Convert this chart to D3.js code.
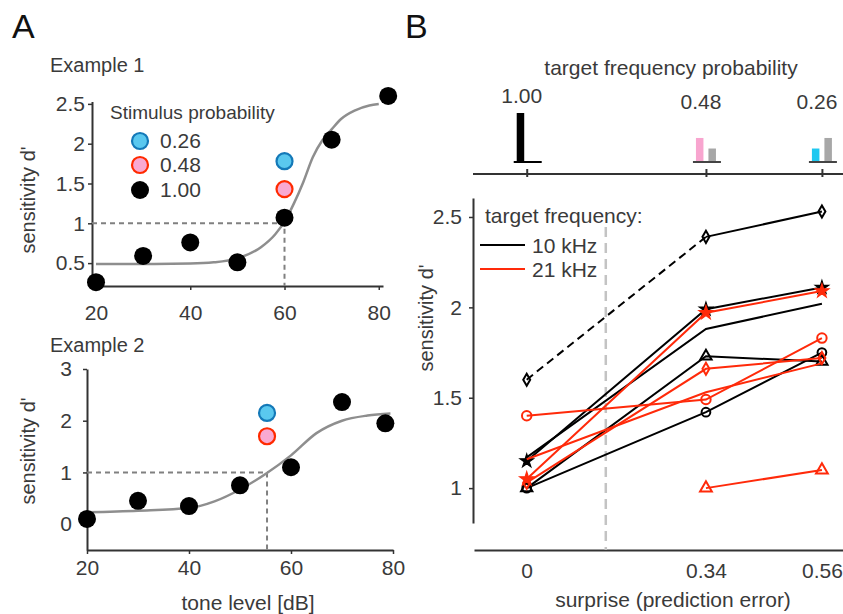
<!DOCTYPE html>
<html>
<head>
<meta charset="utf-8">
<script src="https://cdn.jsdelivr.net/npm/d3@7"></script>
<style>
  body { margin: 0; background: #fff; }
  svg text { font-family: "Helvetica Neue", Helvetica, Arial, "Liberation Sans", sans-serif; fill: #3a3a3a; }
</style>
</head>
<body>
<svg id="fig" width="843" height="614"></svg>
<script>
// ---- Panel A: psychometric examples ----
const ex1Levels = [20, 30, 40, 50, 60, 70, 82];
const ex1Dprime = [0.26, 0.59, 0.76, 0.51, 1.07, 2.05, 2.60];
const ex1ProbeLevel = 60;
const ex1Threshold = 60;
const ex1FitLevels = [20, 30, 40, 45, 50, 55, 58, 60, 62, 64, 66, 68, 70, 72, 75, 78, 80];
const ex1FitDprime = [0.49, 0.49, 0.495, 0.51, 0.56, 0.70, 0.86, 1.02, 1.25, 1.52, 1.83, 2.04, 2.18, 2.31, 2.42, 2.48, 2.50];

const ex2Levels = [20, 30, 40, 50, 60, 70, 78.5];
const ex2Dprime = [0.10, 0.45, 0.35, 0.75, 1.10, 2.36, 1.95];
const ex2ProbeLevel = 55.3;
const ex2Threshold = 55.3;
const ex2FitLevels = [20, 30, 40, 45, 50, 55, 60, 65, 70, 75, 79.5];
const ex2FitDprime = [0.23, 0.26, 0.31, 0.44, 0.67, 0.97, 1.33, 1.76, 2.00, 2.10, 2.14];

// probe d' for probabilities 0.26 and 0.48
const ex1ProbeDprime = [1.78, 1.43];
const ex2ProbeDprime = [2.15, 1.70];
const legendProbs = ["0.26", "0.48", "1.00"];

// ---- Panel B: surprise ----
const surprise = [0, 0.34, 0.56];
const probLabels = ["1.00", "0.48", "0.26"];
const targetProb = [1.00, 0.48, 0.26];
const otherProb = [0.00, 0.26, 0.48];

const k10Diamond = [1.60, 2.39, 2.53];
const k10Star = [1.15, 1.99, 2.11];
const k10Plain = [1.17, 1.88, 2.02];
const k10Triangle = [1.00, 1.73, 1.70];
const k10Circle = [1.00, 1.42, 1.75];
const k21Star = [1.05, 1.97, 2.09];
const k21Diamond = [1.03, 1.66, 1.72];
const k21Circle = [1.40, 1.49, 1.83];
const k21Plain = [1.16, 1.53, 1.69];
const k21Triangle = [null, 1.00, 1.10];
const boundarySurprise = 0.15;

const BLACK = '#000', RED = '#ff2a0a';
const seriesB = [
  { vals: k10Diamond, color: BLACK, marker: d3.symbolDiamond, size: 42, dashFirst: true },
  { vals: k10Plain, color: BLACK, marker: null },
  { vals: k10Triangle, color: BLACK, marker: d3.symbolTriangle, size: 55 },
  { vals: k10Circle, color: BLACK, marker: d3.symbolCircle, size: 60 },
  { vals: k10Star, color: BLACK, marker: d3.symbolStar, size: 55, filled: true },
  { vals: k21Plain, color: RED, marker: null },
  { vals: k21Diamond, color: RED, marker: d3.symbolDiamond, size: 42 },
  { vals: k21Circle, color: RED, marker: d3.symbolCircle, size: 70 },
  { vals: k21Triangle, color: RED, marker: d3.symbolTriangle, size: 60 },
  { vals: k21Star, color: RED, marker: d3.symbolStar, size: 60, filled: true }
];

const svg = d3.select('#fig');
const AXIS = '#333';
const FS = '21px';

function styleAxis(g) {
  g.select('.domain').attr('stroke', AXIS).attr('stroke-width', 2);
  g.selectAll('.tick line').attr('stroke', AXIS).attr('stroke-width', 1.5);
  g.selectAll('.tick text').style('font-size', FS).attr('fill', '#3a3a3a');
}

// panel letters
svg.append('text').attr('x', 12).attr('y', 38).text('A').style('font-size', '34px').style('fill', '#111');
svg.append('text').attr('x', 405).attr('y', 38).text('B').style('font-size', '34px').style('fill', '#111');

function drawExample(cfg) {
  const g = svg.append('g');
  const x = d3.scaleLinear().domain(cfg.xDomain).range(cfg.xRange);
  const y = d3.scaleLinear().domain(cfg.yDomain).range(cfg.yRange);

  g.append('g').attr('transform', `translate(0,${cfg.yRange[0]})`)
    .call(d3.axisBottom(x).tickValues([20, 40, 60, 80]).tickSize(4).tickSizeOuter(0).tickPadding(cfg.xPad))
    .call(styleAxis);
  g.append('g').attr('transform', `translate(${cfg.xRange[0]},0)`)
    .call(d3.axisLeft(y).tickValues(cfg.yTicks).tickFormat(d3.format('')).tickSize(4).tickSizeOuter(0).tickPadding(cfg.yPad))
    .call(styleAxis);

  g.append('text').attr('x', 50).attr('y', cfg.titleY).text(cfg.title).style('font-size', '20px');
  g.append('text')
    .attr('transform', `translate(35,${cfg.yLabelY}) rotate(-90)`)
    .attr('text-anchor', 'middle').text("sensitivity d'").style('font-size', '20px');

  // threshold guides
  g.append('path')
    .attr('d', `M${cfg.xRange[0]},${y(1)}H${x(cfg.threshold)}V${cfg.yRange[0]}`)
    .attr('fill', 'none').attr('stroke', '#808080').attr('stroke-width', 2).attr('stroke-dasharray', '5,4');

  // fitted curve
  const line = d3.line().x(d => x(d[0])).y(d => y(d[1])).curve(d3.curveMonotoneX);
  g.append('path').datum(d3.zip(cfg.fitX, cfg.fitY))
    .attr('d', line).attr('fill', 'none').attr('stroke', '#8e8e8e').attr('stroke-width', 2.5);

  // data
  g.selectAll('.dot').data(d3.zip(cfg.levels, cfg.dprime)).enter().append('circle')
    .attr('cx', d => x(d[0])).attr('cy', d => y(d[1])).attr('r', 9).attr('fill', '#000');

  const probeFill = ['#5ac8ef', '#f9a9d2'];
  const probeStroke = ['#1479b8', '#ff2a00'];
  g.selectAll('.probe').data(cfg.probe).enter().append('circle')
    .attr('cx', x(cfg.probeX)).attr('cy', d => y(d)).attr('r', 8)
    .attr('fill', (d, i) => probeFill[i]).attr('stroke', (d, i) => probeStroke[i]).attr('stroke-width', 2.2);

  return { x, y, probeFill, probeStroke };
}

const a1 = drawExample({
  xDomain: [19.15, 80.9], xRange: [92, 383], yDomain: [0.2125, 2.53], yRange: [286, 101.5],
  yTicks: [0.5, 1, 1.5, 2, 2.5], xPad: 15, yPad: 3, title: 'Example 1', titleY: 72, yLabelY: 200,
  threshold: ex1Threshold, fitX: ex1FitLevels, fitY: ex1FitDprime,
  levels: ex1Levels, dprime: ex1Dprime, probeX: ex1ProbeLevel, probe: ex1ProbeDprime
});
drawExample({
  xDomain: [20, 80], xRange: [87, 393], yDomain: [-0.5, 3], yRange: [550, 369],
  yTicks: [0, 1, 2, 3], xPad: 6, yPad: 11, title: 'Example 2', titleY: 352, yLabelY: 451,
  threshold: ex2Threshold, fitX: ex2FitLevels, fitY: ex2FitDprime,
  levels: ex2Levels, dprime: ex2Dprime, probeX: ex2ProbeLevel, probe: ex2ProbeDprime
});
svg.append('text').attr('x', 248).attr('y', 610).attr('text-anchor', 'middle')
  .text('tone level [dB]').style('font-size', FS);

// legend A
const legA = svg.append('g');
legA.append('text').attr('x', 110).attr('y', 119).text('Stimulus probability').style('font-size', '19px');
const legY = [141, 165, 190];
legendProbs.forEach((p, i) => {
  legA.append('circle').attr('cx', 140).attr('cy', legY[i]).attr('r', i < 2 ? 8 : 9)
    .attr('fill', i < 2 ? a1.probeFill[i] : '#000')
    .attr('stroke', i < 2 ? a1.probeStroke[i] : 'none').attr('stroke-width', 2.2);
  legA.append('text').attr('x', 160).attr('y', legY[i] + 7).text(p).style('font-size', FS);
});

// ---- Panel B ----
const xB = d3.scaleLinear().domain([-0.1, 0.6]).range([474, 843]);
const yB = d3.scaleLinear().domain([0.807, 2.605]).range([523, 198]);
const gB = svg.append('g');

gB.append('g').attr('transform', 'translate(0,550)')
  .call(d3.axisBottom(xB).tickValues(surprise).tickFormat(d => d === 0 ? '0' : d3.format('.2f')(d))
    .tickSize(0).tickPadding(13))
  .call(styleAxis);
gB.append('g').attr('transform', 'translate(473,0)')
  .call(d3.axisLeft(yB).tickValues([1, 1.5, 2, 2.5]).tickFormat(d3.format('')).tickSize(4).tickSizeOuter(0).tickPadding(7))
  .call(styleAxis);

gB.append('text').attr('x', 673).attr('y', 607).attr('text-anchor', 'middle')
  .text('surprise (prediction error)').style('font-size', FS);
gB.append('text').attr('transform', 'translate(433,318) rotate(-90)').attr('text-anchor', 'middle')
  .text("sensitivity d'").style('font-size', '20px');

// boundary line
gB.append('line').attr('x1', xB(boundarySurprise)).attr('x2', xB(boundarySurprise))
  .attr('y1', 227).attr('y2', 550)
  .attr('stroke', '#c3c3c3').attr('stroke-width', 2.5).attr('stroke-dasharray', '10,6');

const lineB = d3.line().defined(d => d[1] != null).x(d => xB(d[0])).y(d => yB(d[1]));
seriesB.forEach(s => {
  const pts = d3.zip(surprise, s.vals);
  if (s.dashFirst) {
    gB.append('path').attr('d', lineB(pts.slice(0, 2))).attr('fill', 'none')
      .attr('stroke', s.color).attr('stroke-width', 2).attr('stroke-dasharray', '8,5');
    gB.append('path').attr('d', lineB(pts.slice(1))).attr('fill', 'none')
      .attr('stroke', s.color).attr('stroke-width', 2);
  } else {
    gB.append('path').attr('d', lineB(pts)).attr('fill', 'none')
      .attr('stroke', s.color).attr('stroke-width', 2);
  }
  if (s.marker) {
    const sym = d3.symbol().type(s.marker).size(s.size);
    gB.selectAll(null).data(pts.filter(d => d[1] != null)).enter().append('path')
      .attr('d', sym)
      .attr('transform', d => `translate(${xB(d[0])},${yB(d[1])})`)
      .attr('fill', s.filled ? s.color : 'none')
      .attr('stroke', s.color).attr('stroke-width', s.filled ? 1.2 : 2);
  }
});

// legend B
gB.append('text').attr('x', 485).attr('y', 223).text('target frequency:').style('font-size', FS);
[['10 kHz', BLACK, 245], ['21 kHz', RED, 269]].forEach(([lab, col, yy]) => {
  gB.append('line').attr('x1', 480).attr('x2', 525).attr('y1', yy).attr('y2', yy)
    .attr('stroke', col).attr('stroke-width', 2);
  gB.append('text').attr('x', 532).attr('y', yy + 7.5).text(lab).style('font-size', FS);
});

// histogram of target frequency probability
const gH = svg.append('g');
const hAxis = gH.append('g').attr('transform', 'translate(0,174)')
  .call(d3.axisBottom(xB).tickValues(surprise).tickFormat('').tickSize(3).tickSizeOuter(0))
  .call(styleAxis);
hAxis.select('.domain').attr('d', 'M473,0H843');
hAxis.selectAll('.tick line').attr('y1', -5).attr('stroke-width', 2);

const hBase = 161;
const hScale = d3.scaleLinear().domain([0, 1]).range([0, 48]);
const barColors = ['#000', '#f8a5cf', '#1fc8f0'];
gH.append('text').attr('x', 671).attr('y', 75).attr('text-anchor', 'middle')
  .text('target frequency probability').style('font-size', FS);
surprise.forEach((s, i) => {
  const c = xB(s);
  gH.append('rect').attr('x', c - 10).attr('width', 7.5)
    .attr('y', hBase - hScale(targetProb[i])).attr('height', hScale(targetProb[i])).attr('fill', barColors[i]);
  gH.append('rect').attr('x', c + 2.5).attr('width', 7.5)
    .attr('y', hBase - hScale(otherProb[i])).attr('height', hScale(otherProb[i])).attr('fill', '#a7a7a7');
  gH.append('line').attr('x1', c - 13).attr('x2', c + 15).attr('y1', hBase + 1).attr('y2', hBase + 1)
    .attr('stroke', i === 0 ? '#000' : '#444').attr('stroke-width', 2);
  const top = hBase - hScale(targetProb[i]);
  gH.append('text').attr('x', c - 5).attr('y', Math.min(top - 10, 109)).attr('text-anchor', 'middle')
    .text(probLabels[i]).style('font-size', FS);
});
</script>
</body>
</html>
